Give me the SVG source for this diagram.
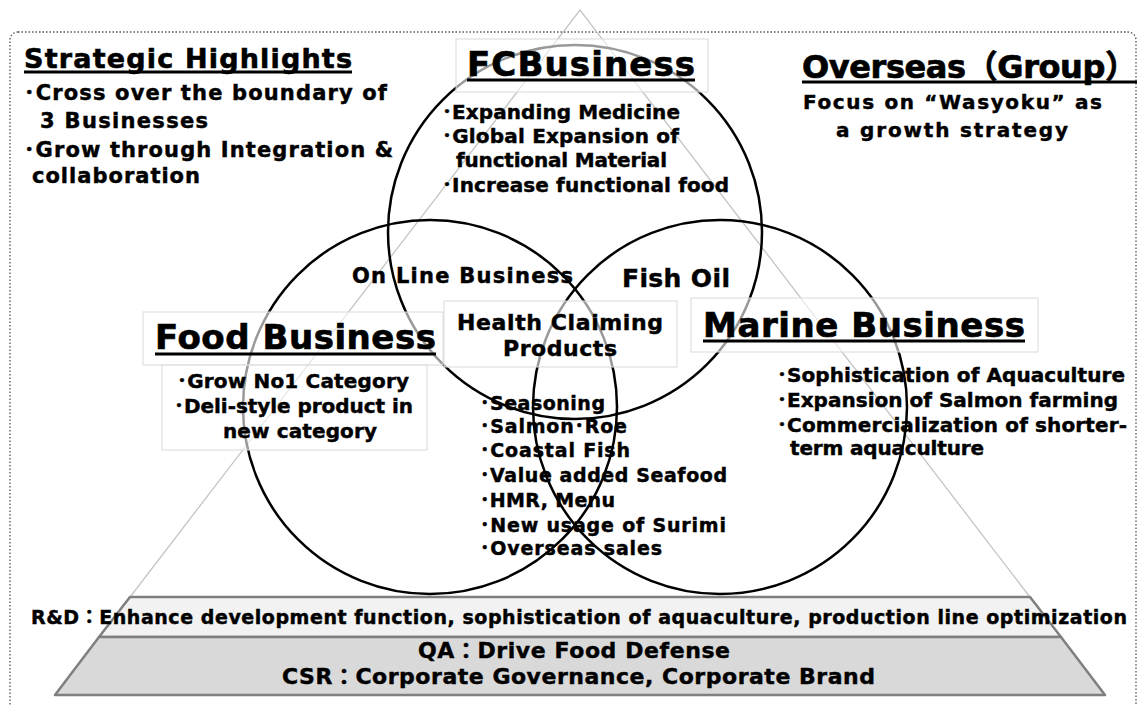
<svg xmlns="http://www.w3.org/2000/svg" width="1138" height="706" viewBox="0 0 1138 706">
<style>
.t{font-family:"DejaVu Sans","Noto Sans CJK JP",sans-serif;font-weight:bold;fill:#000;stroke:#000;stroke-width:0.45}
.ttl{font-size:34px;stroke-width:0.7}
.s27{font-size:27px;stroke-width:0.6}
.s21{font-size:21px}
.s20{font-size:20px}
.s19{font-size:19px}
.s22{font-size:22px}
.s25{font-size:25px}
.u{stroke:#000;stroke-width:2.8}
.circ{fill:none;stroke:#000;stroke-width:2.5}
.box{fill:#fff;fill-opacity:0.6;stroke:#d9d9d9;stroke-width:1}
.tri{fill:none;stroke:#c4c4c4;stroke-width:1.3}
.band{stroke:#7f7f7f;stroke-width:2.5;stroke-linejoin:round}
</style>
<rect x="10" y="32" width="1126" height="700" rx="8" fill="none" stroke="#555" stroke-width="1.3" stroke-dasharray="1.5 2"/>

<g id="pyramid">
<polyline class="tri" points="55,695 580,10 1105,695"/>
<polygon class="band" fill="#f2f2f2" points="130,597 1030,597 1061,637 99,637"/>
<polygon class="band" fill="#d9d9d9" points="99,637 1061,637 1105,695 55,695"/>
</g>

<g id="circles">
<circle class="circ" cx="575" cy="232" r="187"/>
<circle class="circ" cx="430" cy="407" r="187"/>
<circle class="circ" cx="720" cy="407" r="187"/>
</g>

<g id="highlights">
<text class="t s27" x="24" y="68" textLength="328">Strategic Highlights</text>
<line class="u" x1="24" y1="72" x2="352" y2="72"/>
<text class="t s21" x="24" y="100" textLength="363">･Cross over the boundary of</text>
<text class="t s21" x="40" y="128" textLength="168">3 Businesses</text>
<text class="t s21" x="24" y="157" textLength="369">･Grow through Integration &amp;</text>
<text class="t s21" x="32" y="183" textLength="168">collaboration</text>
</g>

<g id="fc-business">
<rect class="box" x="456" y="39" width="252" height="53"/>
<text class="t ttl" x="467" y="76" textLength="228">FCBusiness</text>
<line class="u" x1="467" y1="80" x2="695" y2="80"/>
<text class="t s20" x="442" y="119" textLength="238">･Expanding Medicine</text>
<text class="t s20" x="442" y="143" textLength="237">･Global Expansion of</text>
<text class="t s20" x="456" y="167" textLength="211">functional Material</text>
<text class="t s20" x="442" y="192" textLength="287">･Increase functional food</text>
</g>

<g id="overseas">
<text class="t ttl" style="font-size:32px" x="802" y="78" textLength="335">Overseas（Group）</text>
<line class="u" x1="802" y1="82" x2="1137" y2="82"/>
<text class="t s20" x="803" y="109" textLength="299">Focus on “Wasyoku” as</text>
<text class="t s20" x="836" y="137" textLength="232">a growth strategy</text>
</g>

<g id="food-business">
<rect class="box" x="143" y="312" width="300" height="53"/>
<rect class="box" x="162" y="365" width="265" height="85"/>
<text class="t ttl" x="155" y="349" textLength="281">Food Business</text>
<line class="u" x1="155" y1="354" x2="436" y2="354"/>
<text class="t s20" x="177" y="388" textLength="232">･Grow No1 Category</text>
<text class="t s20" x="174" y="413" textLength="239">･Deli-style product in</text>
<text class="t s20" x="223" y="438" textLength="154">new category</text>
</g>

<g id="online">
<text class="t s21" x="352" y="283" textLength="221">On Line Business</text>
</g>
<g id="fish-oil">
<text class="t s25" x="622" y="287" textLength="108">Fish Oil</text>
</g>
<g id="health">
<rect class="box" x="444" y="301" width="233" height="66"/>
<text class="t s22" x="457" y="330" textLength="206">Health Claiming</text>
<text class="t s22" x="503" y="356" textLength="114">Products</text>
</g>

<g id="marine-business">
<rect class="box" x="691" y="298" width="347" height="54"/>
<text class="t ttl" x="703" y="337" textLength="322">Marine Business</text>
<line class="u" x1="703" y1="341" x2="1025" y2="341"/>
<text class="t s20" x="777" y="382" textLength="348">･Sophistication of Aquaculture</text>
<text class="t s20" x="777" y="407" textLength="341">･Expansion of Salmon farming</text>
<text class="t s20" x="777" y="432" textLength="350">･Commercialization of shorter-</text>
<text class="t s20" x="790" y="455" textLength="194">term aquaculture</text>
</g>

<g id="common-products">
<text class="t s19" x="480" y="410" textLength="125">･Seasoning</text>
<text class="t s19" x="480" y="433" textLength="147">･Salmon･Roe</text>
<text class="t s19" x="480" y="457" textLength="150">･Coastal Fish</text>
<text class="t s19" x="480" y="482" textLength="247">･Value added Seafood</text>
<text class="t s19" x="480" y="507" textLength="135">･HMR, Menu</text>
<text class="t s19" x="480" y="532" textLength="246">･New usage of Surimi</text>
<text class="t s19" x="480" y="555" textLength="182">･Overseas sales</text>
</g>

<g id="rd">
<text class="t s19" x="31" y="624" textLength="1096">R&amp;D：Enhance development function, sophistication of aquaculture, production line optimization</text>
</g>
<g id="qa-csr">
<text class="t s22" x="418" y="658" textLength="312">QA：Drive Food Defense</text>
<text class="t s22" x="282" y="684" textLength="593">CSR：Corporate Governance, Corporate Brand</text>
</g>
</svg>
